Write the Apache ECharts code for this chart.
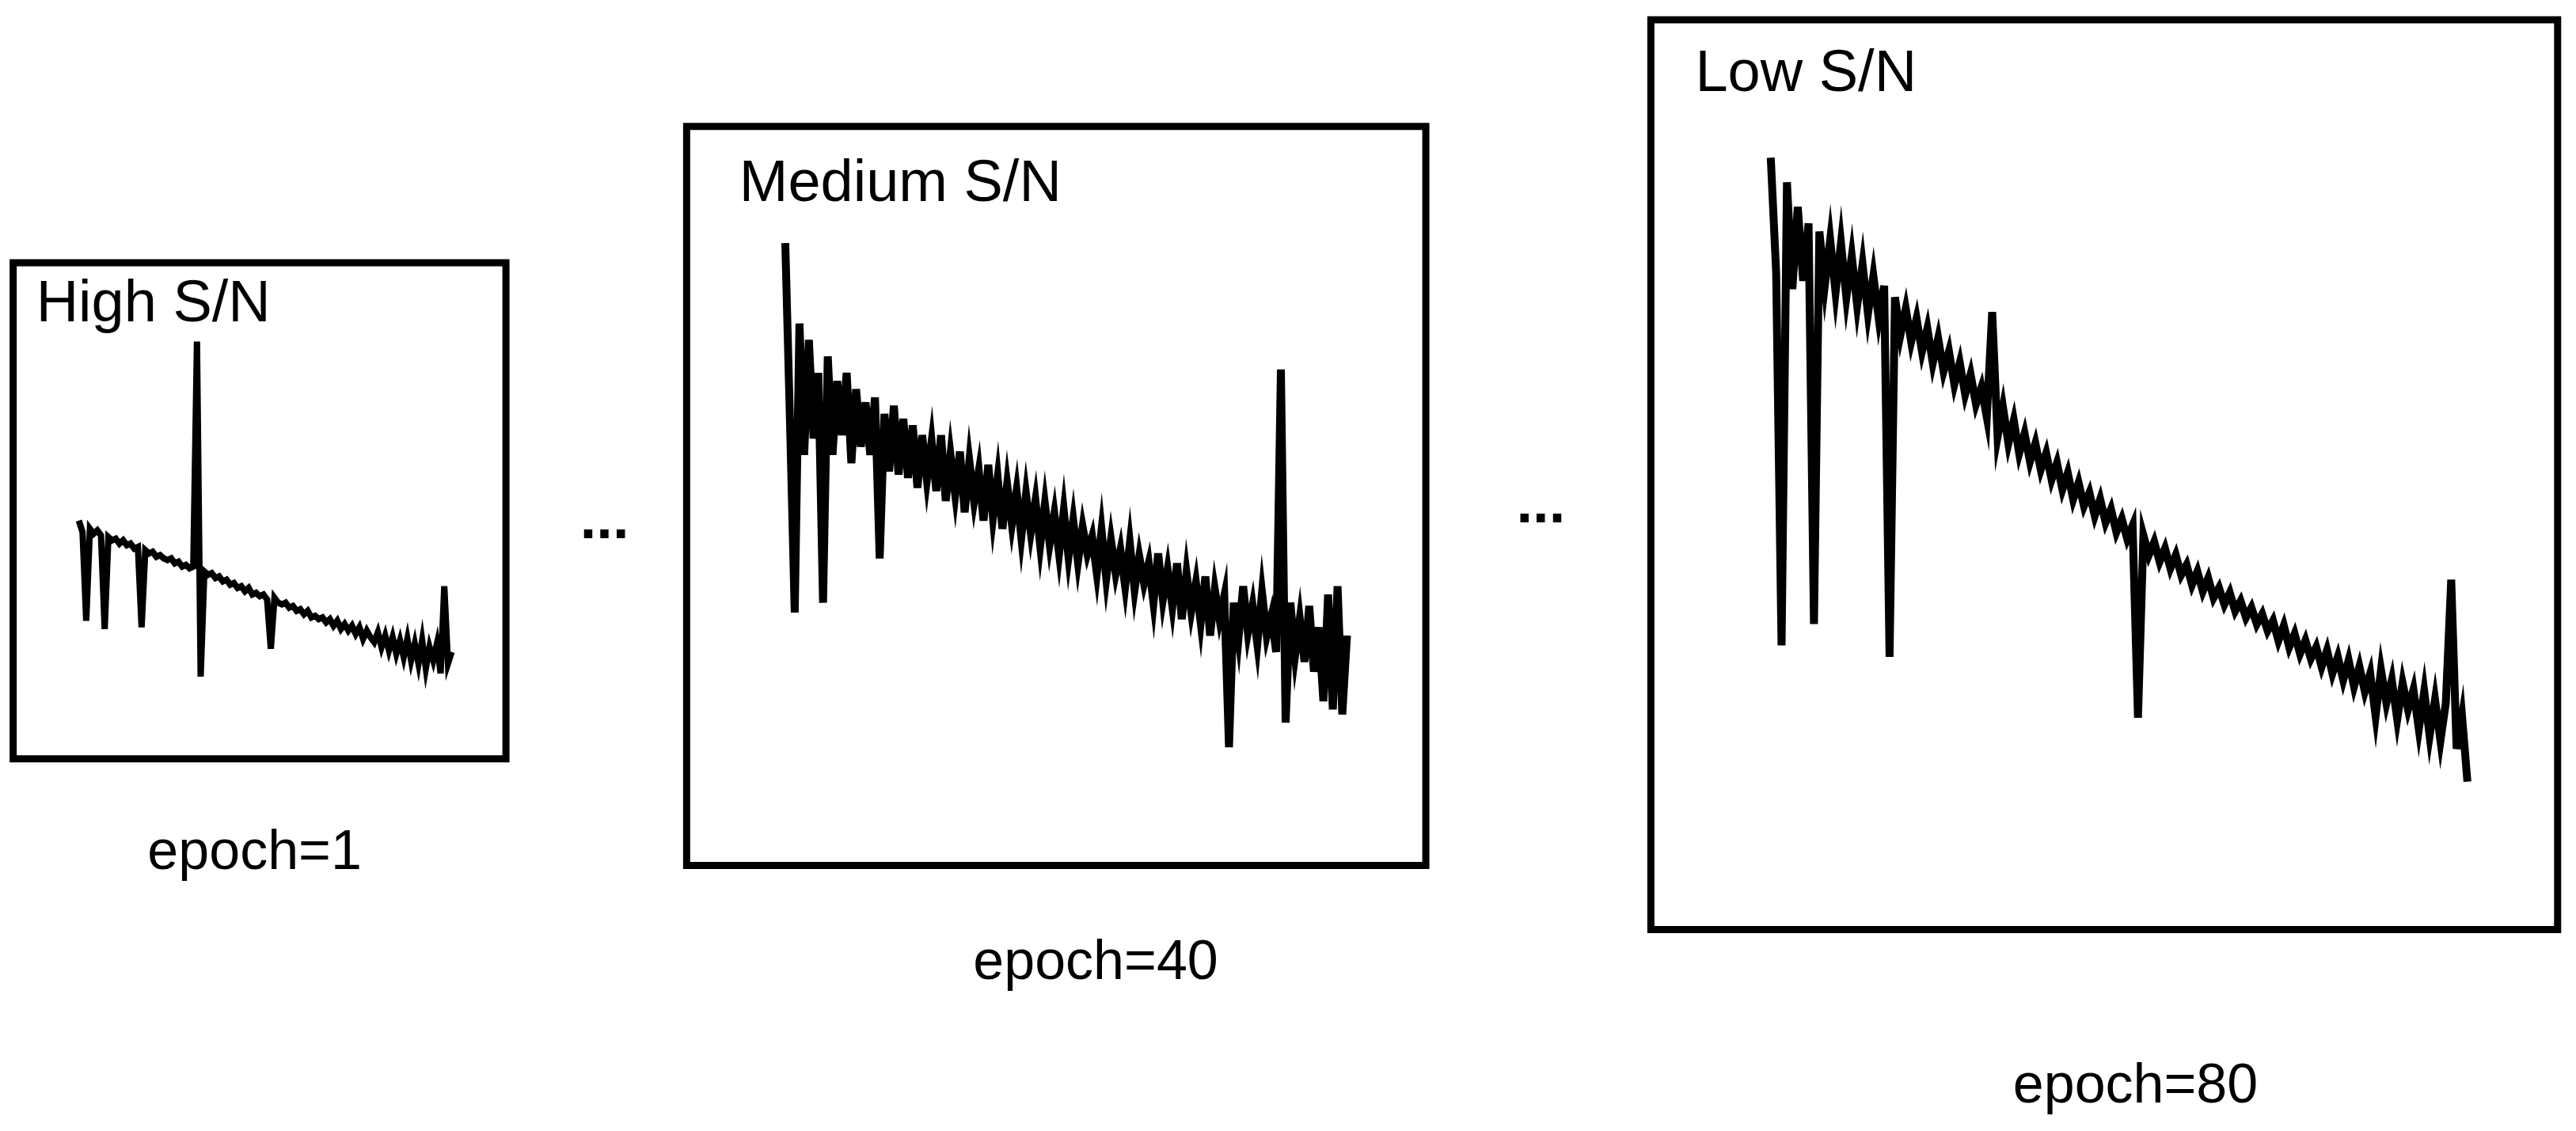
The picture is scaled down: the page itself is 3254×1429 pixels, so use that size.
<!DOCTYPE html>
<html><head><meta charset="utf-8">
<script src="https://cdn.jsdelivr.net/npm/echarts@6/dist/echarts.min.js"></script>
<style>html,body{margin:0;background:#fff}#c{width:3254px;height:1429px}</style>
</head><body><div id="c"></div>
<script>
const titles = ["High S/N", "Medium S/N", "Low S/N"];
const epochs = ["epoch=1", "epoch=40", "epoch=80"];
const fluxHigh = [145,138,84,140,137,139,136,79,135,133,134,131,133,130,131,128,129,80,127,125,126,123,124,122,121,122,119,120,117,118,116,117,254,50,114,112,113,110,111,108,109,106,107,104,105,102,104,100,101,99,100,97,67,98,95,94,95,92,93,90,91,88,90,86,87,85,86,83,85,81,84,79,82,78,81,76,80,73,78,74,71,77,68,75,66,74,64,72,62,73,60,70,58,72,55,68,60,70,52,105,58,65];
const fluxMedium = [379,270,154,330,250,320,260,300,160,310,250,295,262,300,245,290,255,282,250,285,187,275,240,280,238,272,236,268,230,262,235,258,228,262,222,250,226,252,215,246,222,240,210,244,212,236,205,232,208,228,200,226,203,222,195,220,196,214,190,216,188,210,185,206,190,200,178,204,175,198,178,192,170,196,168,188,172,184,160,190,162,180,158,184,150,178,155,172,148,176,140,168,150,164,72,160,138,170,142,158,135,166,140,152,130,302,87,160,128,150,124,158,118,145,100,165,95,170,92,140];
const fluxLow = [470,400,173,455,390,440,395,430,186,425,392,420,388,418,385,410,380,405,375,398,372,392,166,385,362,378,358,372,352,366,345,360,340,352,332,345,326,338,320,330,312,376,300,318,296,310,290,302,285,296,280,290,274,284,268,278,262,272,258,266,252,262,248,256,242,250,238,246,129,240,228,236,224,232,220,228,216,222,210,218,206,214,202,208,198,205,194,200,190,196,186,192,182,188,176,185,172,180,168,176,165,172,160,170,156,166,152,164,148,160,145,156,130,158,138,152,128,150,134,146,122,145,118,140,115,138,213,110,130,90];
const S = 2.075;
const panels = [
  {box:[8,160,300,302], x:[-17.8,115.7], data:fluxHigh, title:[22,190], epoch:[155,520], lw:8},
  {box:[418,77,450,450], x:[-20.9,135.7], data:fluxMedium, title:[450,117], epoch:[667,587], lw:10},
  {box:[1005,12,552,554], x:[-22.2,145.7], data:fluxLow, title:[1032,50], epoch:[1300,662], lw:10}
];
const font = '"Liberation Sans", Arial, sans-serif';
const opt = {animation:false, backgroundColor:'#fff', grid:[], xAxis:[], yAxis:[], series:[], graphic:[]};
panels.forEach((p,i)=>{
  opt.grid.push({left:p.box[0]*S, top:p.box[1]*S, width:p.box[2]*S, height:p.box[3]*S, show:true, borderColor:'#000', borderWidth:9, backgroundColor:'transparent'});
  opt.xAxis.push({type:'value', gridIndex:i, min:p.x[0], max:p.x[1], show:false});
  opt.yAxis.push({type:'value', gridIndex:i, min:0, max:p.box[3], show:false});
  opt.series.push({type:'line', xAxisIndex:i, yAxisIndex:i, data:p.data.map((v,k)=>[k,v]), symbol:'none', lineStyle:{color:'#000', width:p.lw, join:'miter'}, z:3});
  opt.graphic.push({type:'text', left:p.title[0]*S, top:p.title[1]*S-46, style:{text:titles[i], font:'74px '+font, fill:'#000'}, z:10});
  opt.graphic.push({type:'text', x:p.epoch[0]*S, y:p.epoch[1]*S, style:{text:epochs[i], font:'70px '+font, fill:'#000', align:'center', verticalAlign:'middle'}});
});
opt.graphic.push({type:'text', x:368*S, y:318*S, style:{text:'...', font:'bold 74px '+font, fill:'#000', align:'center', verticalAlign:'middle'}});
opt.graphic.push({type:'text', x:938*S, y:308*S, style:{text:'...', font:'bold 74px '+font, fill:'#000', align:'center', verticalAlign:'middle'}});
echarts.init(document.getElementById('c')).setOption(opt);
</script></body></html>
